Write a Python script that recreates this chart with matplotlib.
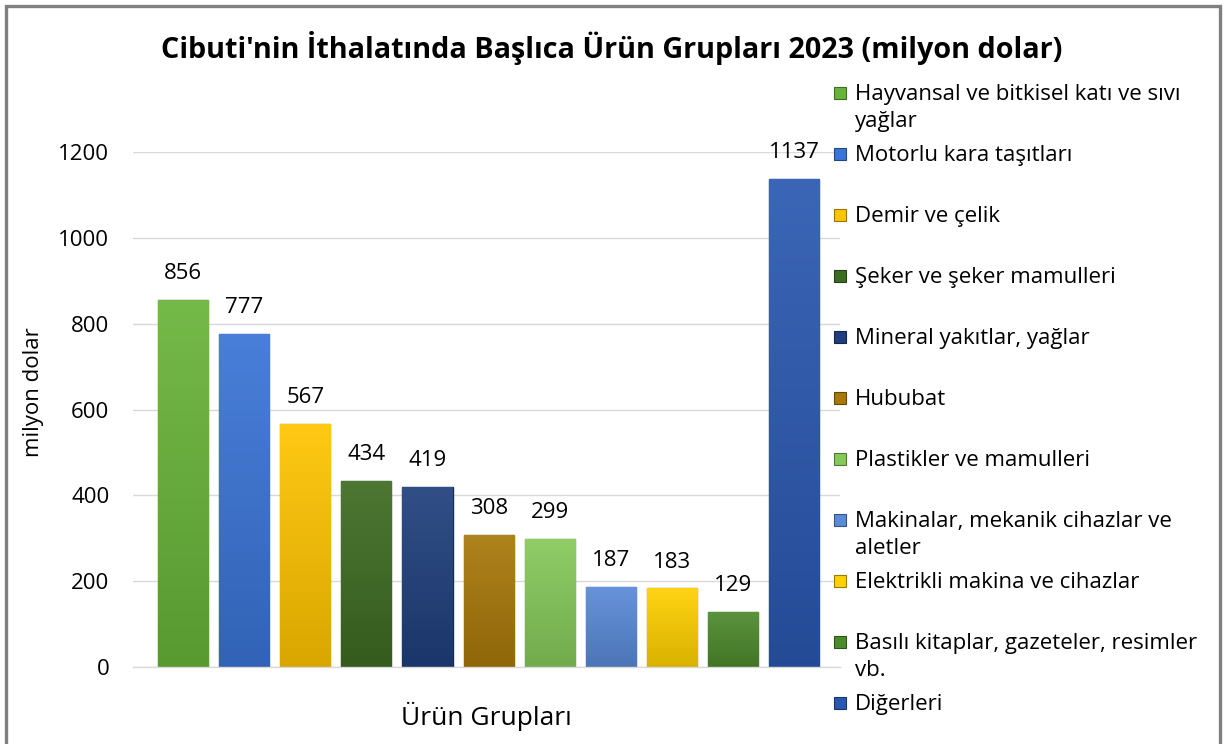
import numpy as np
import matplotlib
matplotlib.use("Agg")
import matplotlib.pyplot as plt
from matplotlib.colors import LinearSegmentedColormap, to_rgb
from matplotlib.patches import Rectangle

plt.rcParams['font.family'] = ['Open Sans', 'DejaVu Sans']

# data
groups = [
    "Hayvansal ve bitkisel katı ve sıvı\nyağlar",
    "Motorlu kara taşıtları",
    "Demir ve çelik",
    "Şeker ve şeker mamulleri",
    "Mineral yakıtlar, yağlar",
    "Hububat",
    "Plastikler ve mamulleri",
    "Makinalar, mekanik cihazlar ve\naletler",
    "Elektrikli makina ve cihazlar",
    "Basılı kitaplar, gazeteler, resimler\nvb.",
    "Diğerleri",
]
values = [856, 777, 567, 434, 419, 308, 299, 187, 183, 129, 1137]
colors = ["#68b439", "#3a74d6", "#ffc400", "#3e6b22", "#1f3f7c",
          "#a8780a", "#86c95a", "#5a8ad8", "#ffd000", "#4d8a2c", "#2a58b0"]
yticks = [0, 200, 400, 600, 800, 1000, 1200]


def shade(c, f):
    r, g, b = to_rgb(c)
    if f >= 1:
        return (r + (1 - r) * (f - 1), g + (1 - g) * (f - 1), b + (1 - b) * (f - 1))
    return (r * f, g * f, b * f)


fig = plt.figure(figsize=(12.25, 7.44), dpi=100)
ax = fig.add_axes([133 / 1225, 1 - 667 / 744, 707 / 1225, 515 / 744])

x = np.arange(len(values))
bars = ax.bar(x, values, width=0.82, color=colors, zorder=2,
              edgecolor=[shade(c, 0.7) for c in colors], linewidth=1.0)

# soft vertical gradient inside each bar
grad = np.linspace(0, 1, 256).reshape(-1, 1)
for b, c in zip(bars, colors):
    cmap = LinearSegmentedColormap.from_list("g", [shade(c, 0.85), shade(c, 1.08)])
    im = ax.imshow(grad, extent=[b.get_x(), b.get_x() + b.get_width(), 0, b.get_height()],
                   origin="lower", aspect="auto", cmap=cmap, zorder=2.1)
    im.set_clip_path(b)
    ax.annotate(f"{b.get_height():.0f}", (b.get_x() + b.get_width() / 2, b.get_height()),
                xytext=(0, 19), textcoords="offset points", ha="center", va="center",
                fontsize=16, color="black", annotation_clip=False)

ax.set_xlim(-0.82, 10.75)
ax.set_ylim(0, 1200)
ax.set_yticks(yticks)
ax.set_xticks([])
ax.tick_params(axis="y", length=0, pad=17, labelsize=16)
ax.grid(axis="y", color="#d9d9d9", linewidth=1.0, zorder=0)
for s in ["top", "right", "left"]:
    ax.spines[s].set_visible(False)
ax.spines["bottom"].set_color("#d9d9d9")
ax.spines["bottom"].set_linewidth(1.0)

fig.text(612 / 1225, 1 - 48 / 744, "Cibuti'nin İthalatında Başlıca Ürün Grupları 2023 (milyon dolar)",
         ha="center", va="center", fontsize=20.7, fontweight="bold")
fig.text(33 / 1225, 1 - 392 / 744, "milyon dolar", rotation=90, ha="center", va="center", fontsize=16)
fig.text(486 / 1225, 1 - 716 / 744, "Ürün Grupları", ha="center", va="center", fontsize=19)

# legend, drawn as in the spreadsheet: fixed slots, wrapped labels
y0, step = 93, 61
for i, (lab, c) in enumerate(zip(groups, colors)):
    yc = y0 + i * step
    fig.patches.append(Rectangle((834 / 1225, 1 - (yc + 6) / 744), 12 / 1225, 12 / 744,
                                 transform=fig.transFigure, facecolor=c,
                                 edgecolor=shade(c, 0.6), linewidth=0.8))
    fig.text(855 / 1225, 1 - (yc - 9) / 744, lab, ha="left", va="top", fontsize=16,
             linespacing=1.4)

fig.patches.append(Rectangle((6 / 1225, -4 / 744), 1214 / 1225, 742 / 744, transform=fig.transFigure,
                             fill=False, edgecolor="#808080", linewidth=2.4))

fig.savefig("out.png", dpi=100)
